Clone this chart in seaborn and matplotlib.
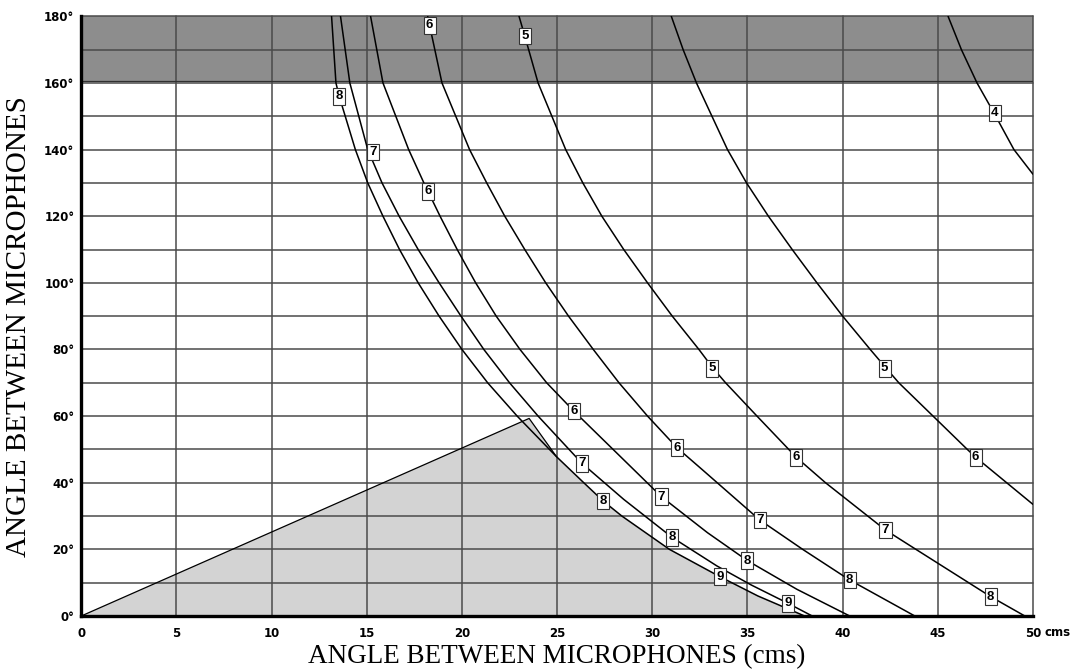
import numpy as np
import pandas as pd
import matplotlib
matplotlib.use("Agg")
import matplotlib.pyplot as plt
import seaborn as sns

# ---------------- data ----------------
x_ticks = [0, 5, 10, 15, 20, 25, 30, 35, 40, 45, 50]
x_tick_labels = ["0", "5", "10", "15", "20", "25", "30", "35", "40", "45", "50"]
y_major = [0, 20, 40, 60, 80, 100, 120, 140, 160, 180]
y_tick_labels = ["0°", "20°", "40°", "60°", "80°", "100°", "120°", "140°", "160°", "180°"]
y_minor = [10, 30, 50, 70, 90, 110, 130, 150, 170]

c1_x = [13.15, 13.38, 13.55, 14.4, 15.05, 15.85, 16.72, 17.7, 18.8, 20.0, 21.35, 22.9, 24.97, 26.4, 27.42, 28.4, 30.9, 33.55, 35.55, 38.0]
c1_y = [180, 160, 156, 140, 130, 120, 110, 100, 90, 80, 70, 60, 47.8, 40, 34.5, 30, 20, 11.8, 6, 0]

c2_x = [13.62, 14.11, 15.05, 15.8, 16.7, 17.7, 18.8, 19.95, 21.15, 22.5, 24.0, 26.31, 28.5, 31.04, 33.4, 35.2, 37.13, 38.4]
c2_y = [180, 160, 140, 130, 120, 110, 100, 90, 80, 70, 60, 45.8, 35, 23.6, 15.0, 9.3, 3.8, 0]

c3_x = [15.2, 15.85, 17.2, 18.0, 18.85, 19.75, 20.72, 21.8, 23.05, 24.45, 25.88, 29.05, 30.48, 32.9, 35.0, 37.6, 40.37]
c3_y = [180, 160, 140, 130, 120, 110, 100, 90, 80, 70, 61.5, 43.8, 35.8, 25, 16.6, 8, 0]

c4_x = [18.2, 18.3, 18.95, 20.4, 21.3, 22.25, 23.3, 24.4, 25.6, 26.9, 28.25, 29.75, 31.3, 32.65, 35.65, 37.9, 40.37, 43.79]
c4_y = [180, 177.3, 160, 140, 130, 120, 110, 100, 90, 80, 70, 60, 50.5, 43.8, 28.8, 20, 10.8, 0]

c5_x = [23.0, 23.3, 24.0, 25.45, 26.35, 27.35, 28.5, 29.75, 31.05, 32.45, 33.2, 33.85, 35.5, 37.57, 39.1, 42.25, 43.85, 47.78, 49.57]
c5_y = [180, 174.1, 160, 140, 130, 120, 110, 100, 90, 80, 74.3, 70, 60, 47.6, 40, 25.8, 20, 5.8, 0]

c6_x = [31.0, 31.62, 32.32, 33.95, 34.95, 36.1, 37.35, 38.65, 40.0, 41.45, 42.3, 42.95, 44.75, 46.55, 47.0, 50.0]
c6_y = [180, 170, 160, 140, 130, 120, 110, 100, 90, 80, 74.3, 70, 60, 50, 47.6, 33.5]

c7_x = [45.54, 46.24, 47.06, 47.95, 49.0, 50.0]
c7_y = [180, 170, 160, 151, 140, 132.6]

# boxed curve labels
lab_x = [13.55, 27.42, 33.55,
         15.34, 26.31, 31.04, 37.13,
         18.22, 25.88, 30.48, 35.0,
         18.3, 31.3, 35.65, 40.37,
         23.32, 33.14, 37.57, 42.25, 47.78,
         42.21, 46.99,
         48.0]
lab_y = [156, 34.5, 11.8,
         139.3, 45.8, 23.6, 3.8,
         127.5, 61.5, 35.8, 16.6,
         177.3, 50.5, 28.8, 10.8,
         174.1, 74.3, 47.6, 25.8, 5.8,
         74.3, 47.6,
         151]
lab_txt = ["8", "8", "9",
           "7", "7", "8", "9",
           "6", "6", "7", "8",
           "6", "6", "7", "8",
           "5", "5", "6", "7", "8",
           "5", "6",
           "4"]

# shaded regions
band_lo, band_hi = 160.7, 180
apex_x, apex_y = 23.53, 59.3

# ---------------- build ----------------
curves = [(c1_x, c1_y), (c2_x, c2_y), (c3_x, c3_y), (c4_x, c4_y),
          (c5_x, c5_y), (c6_x, c6_y), (c7_x, c7_y)]
df = pd.concat([pd.DataFrame({"x": cx, "y": cy, "curve": i})
                for i, (cx, cy) in enumerate(curves)], ignore_index=True)

sns.set_style("white")
plt.rcParams["font.family"] = ["DejaVu Sans"]
plt.rcParams["text.color"] = "black"
plt.rcParams["xtick.color"] = "black"
plt.rcParams["ytick.color"] = "black"
plt.rcParams["axes.labelcolor"] = "black"

fig = plt.figure(figsize=(10.75, 6.71), dpi=100)
ax = fig.add_axes([0.0756, 0.082, 0.8853, 0.8937])
ax.set_xlim(0, 50)
ax.set_ylim(0, 180)

# top band
ax.axhspan(band_lo, band_hi, facecolor="#8d8d8d", edgecolor="none", zorder=1)
ax.axhline(band_lo, color="#303030", lw=0.9, zorder=1.6)

# triangle region (left edge from origin to apex, right edge follows curve 1)
tri_x = [0, apex_x] + [x for x, y in zip(c1_x, c1_y) if y <= 48]
tri_y = [0, apex_y] + [y for y in c1_y if y <= 48]
ax.fill(tri_x, tri_y, facecolor="#d3d3d3", edgecolor="none", zorder=1)
ax.plot(tri_x[:3], tri_y[:3], color="black", lw=0.9, zorder=2)

# grid
for gx in x_ticks[1:]:
    ax.axvline(gx, color="#4a4a4a", lw=1.1, zorder=1.5, clip_on=False)
for gy in range(10, 190, 10):
    ax.axhline(gy, color="#4a4a4a", lw=1.1, zorder=1.5, clip_on=False)

# curves
sns.lineplot(data=df, x="x", y="y", units="curve", estimator=None, sort=False,
             color="black", lw=1.1, ax=ax, legend=False, zorder=3)

for x, y, t in zip(lab_x, lab_y, lab_txt):
    ax.text(x, y, t, ha="center", va="center", fontsize=9.5, fontweight="bold",
            family=["Liberation Sans", "DejaVu Sans"], zorder=5,
            bbox=dict(boxstyle="square,pad=0.18", fc="white", ec="#333333", lw=0.8))

# axes styling
for s in ["top", "right"]:
    ax.spines[s].set_visible(False)
for s in ["left", "bottom"]:
    ax.spines[s].set_color("black")
    ax.spines[s].set_linewidth(2.4)
    ax.spines[s].set_zorder(6)

ax.set_xticks(x_ticks)
ax.set_xticklabels(x_tick_labels)
ax.set_yticks(y_major)
ax.set_yticklabels(y_tick_labels)
ax.set_yticks(y_minor, minor=True)
ax.tick_params(axis="both", which="both", direction="out", length=3, width=1,
               color="black", labelcolor="black", labelsize=8.5, pad=2)
ax.tick_params(axis="x", pad=5)
for lab in ax.get_xticklabels() + ax.get_yticklabels():
    lab.set_fontweight("bold")

ax.annotate("cms", xy=(50, 0), xycoords="data", xytext=(8, -7.2),
            textcoords="offset points", ha="left", va="top",
            fontsize=8.5, fontweight="bold", color="black")

ax.set_xlabel("ANGLE BETWEEN MICROPHONES (cms)", fontsize=19.5,
              family="Liberation Serif", labelpad=3)
ax.set_ylabel("ANGLE BETWEEN MICROPHONES", fontsize=21,
              family="Liberation Serif")
ax.yaxis.set_label_coords(-0.052, 0.483)

fig.savefig("out.png", dpi=100)
